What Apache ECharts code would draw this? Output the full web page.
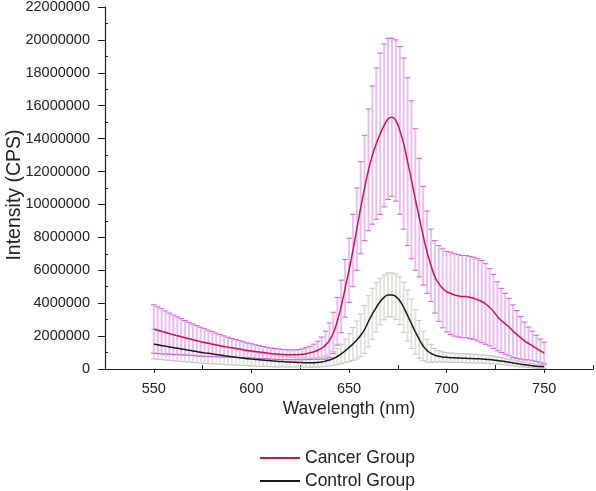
<!DOCTYPE html>
<html>
<head>
<meta charset="utf-8">
<script src="https://cdn.jsdelivr.net/npm/echarts@6/dist/echarts.min.js"></script>
<style>html,body{margin:0;padding:0;background:#fff}#c{width:596px;height:491px}</style>
</head>
<body>
<div id="c"></div>
<script>
// Wavelength (nm) sample positions
const wavelengths = [
550,552,554,556,558,560,562,564,566,568,
570,572,574,576,578,580,582,584,586,588,
590,592,594,596,598,600,602,604,606,608,
610,612,614,616,618,620,622,624,626,628,
630,632,634,636,638,640,642,644,646,648,
650,652,654,656,658,660,662,664,666,668,
670,672,674,676,678,680,682,684,686,688,
690,692,694,696,698,700,702,704,706,708,
710,712,714,716,718,720,722,724,726,728,
730,732,734,736,738,740,742,744,746,748,
750];
// Intensities in millions of CPS
const cancerMean = [
2.43,2.36,2.29,2.22,2.15,2.08,2.02,1.96,1.90,1.84,
1.78,1.72,1.66,1.61,1.56,1.51,1.46,1.41,1.37,1.33,
1.29,1.25,1.21,1.17,1.13,1.10,1.06,1.03,1.00,0.97,
0.94,0.92,0.90,0.88,0.87,0.86,0.86,0.87,0.89,0.93,
0.98,1.05,1.14,1.27,1.45,1.75,2.20,2.90,3.80,4.90,
6.00,7.20,8.50,9.80,11.00,12.10,13.00,13.70,14.30,14.80,
15.20,15.30,15.10,14.50,13.70,12.60,11.50,10.30,9.20,8.10,
7.10,6.30,5.60,5.20,4.90,4.70,4.60,4.50,4.45,4.40,
4.40,4.35,4.30,4.20,4.10,3.95,3.75,3.50,3.20,2.95,
2.75,2.55,2.30,2.10,1.90,1.70,1.55,1.40,1.25,1.10,
0.97];
const cancerSD = [
1.47,1.42,1.37,1.31,1.25,1.20,1.15,1.10,1.05,1.00,
0.96,0.92,0.88,0.84,0.80,0.76,0.72,0.68,0.64,0.60,
0.57,0.54,0.51,0.48,0.45,0.43,0.41,0.39,0.37,0.35,
0.34,0.33,0.32,0.31,0.30,0.30,0.30,0.31,0.33,0.36,
0.40,0.46,0.55,0.67,0.85,1.05,1.25,1.45,1.60,1.75,
1.95,2.20,2.50,2.80,3.20,3.70,4.20,4.60,4.90,4.95,
4.90,4.80,4.90,5.10,5.20,5.10,4.80,4.30,3.60,3.00,
2.50,2.20,2.20,2.30,2.40,2.45,2.50,2.50,2.50,2.50,
2.50,2.50,2.50,2.50,2.50,2.45,2.35,2.25,2.10,1.95,
1.85,1.75,1.60,1.45,1.30,1.15,1.00,0.90,0.80,0.72,
0.66];
const controlMean = [
1.52,1.47,1.43,1.39,1.34,1.30,1.26,1.22,1.18,1.14,
1.10,1.06,1.02,0.98,0.95,0.92,0.88,0.85,0.81,0.78,
0.75,0.72,0.69,0.66,0.63,0.60,0.58,0.56,0.54,0.52,
0.50,0.48,0.46,0.45,0.43,0.42,0.41,0.40,0.39,0.38,
0.38,0.38,0.40,0.43,0.48,0.55,0.64,0.76,0.92,1.10,
1.30,1.52,1.76,2.05,2.40,2.90,3.35,3.75,4.10,4.35,
4.50,4.50,4.40,4.15,3.75,3.25,2.75,2.25,1.80,1.40,
1.12,0.95,0.84,0.77,0.73,0.71,0.69,0.68,0.67,0.66,
0.65,0.64,0.63,0.62,0.61,0.59,0.57,0.55,0.52,0.49,
0.45,0.41,0.37,0.33,0.29,0.26,0.23,0.20,0.17,0.15,
0.13];
const controlSD = [
0.90,0.88,0.86,0.84,0.82,0.80,0.78,0.76,0.74,0.72,
0.70,0.68,0.66,0.64,0.62,0.60,0.58,0.56,0.54,0.52,
0.50,0.48,0.46,0.45,0.43,0.42,0.41,0.40,0.38,0.37,
0.36,0.35,0.34,0.32,0.31,0.30,0.29,0.28,0.28,0.27,
0.27,0.27,0.28,0.30,0.33,0.37,0.42,0.50,0.60,0.72,
0.85,1.00,1.15,1.30,1.45,1.55,1.55,1.50,1.42,1.36,
1.34,1.34,1.38,1.45,1.52,1.55,1.50,1.35,1.15,0.90,
0.70,0.55,0.42,0.35,0.31,0.29,0.28,0.28,0.27,0.27,
0.27,0.27,0.26,0.26,0.25,0.25,0.24,0.23,0.22,0.21,
0.20,0.19,0.18,0.17,0.16,0.15,0.14,0.13,0.12,0.11,
0.10];
const UNIT = 1000000;
const xLabels = [550, 600, 650, 700, 750];
const xMinorTicks = [575, 625, 675, 725, 775];
const yMinorTicks = [1,3,5,7,9,11,13,15,17,19,21].map(v => v * UNIT);
const seriesNames = ['Cancer Group', 'Control Group'];

const chart = echarts.init(document.getElementById('c'), null, {renderer: 'canvas'});
const FONT = '"Liberation Sans", Arial, sans-serif';

function errData(mean, sd) {
  return wavelengths.map((w, i) => [w, mean[i] * UNIT, sd[i] * UNIT]);
}
function lineData(mean) {
  return wavelengths.map((w, i) => [w, mean[i] * UNIT]);
}
function errRender(barColor, capColor) {
  return function (params, api) {
    const x = api.value(0), m = api.value(1), s = api.value(2);
    const top = api.coord([x, m + s]);
    const bot = api.coord([x, m - s]);
    const cw = 2.8;
    return {
      type: 'group',
      children: [
        {type: 'line', shape: {x1: top[0], y1: top[1], x2: bot[0], y2: bot[1]}, style: {stroke: barColor, lineWidth: 2}},
        {type: 'line', shape: {x1: top[0] - cw, y1: top[1], x2: top[0] + cw, y2: top[1]}, style: {stroke: capColor, lineWidth: 1}},
        {type: 'line', shape: {x1: bot[0] - cw, y1: bot[1], x2: bot[0] + cw, y2: bot[1]}, style: {stroke: capColor, lineWidth: 1}}
      ]
    };
  };
}

const axisCol = '#1e1e1e';
chart.setOption({
  animation: false,
  backgroundColor: '#ffffff',
  grid: {left: 105, right: 3, top: 7, bottom: 122, containLabel: false, outerBoundsMode: 'none'},
  legend: {
    data: seriesNames,
    orient: 'vertical',
    left: 260,
    top: 449,
    padding: 0,
    itemWidth: 40,
    itemHeight: 2,
    itemGap: 5,
    icon: 'rect',
    textStyle: {fontFamily: FONT, fontSize: 17.5, color: '#222'}
  },
  xAxis: [{
    type: 'value', min: 525, max: 775,
    name: 'Wavelength (nm)', nameLocation: 'middle', nameGap: 31, nameMoveOverlap: false,
    nameTextStyle: {fontFamily: FONT, fontSize: 17.5, color: '#222'},
    axisLine: {show: true, lineStyle: {color: axisCol, width: 1.2}},
    axisTick: {show: true, inside: false, length: 4, customValues: xLabels, lineStyle: {color: axisCol}},
    axisLabel: {customValues: xLabels, margin: 12, fontFamily: FONT, fontSize: 14.5, color: '#222'},
    splitLine: {show: false}
  }, {
    type: 'value', min: 525, max: 775, position: 'bottom',
    axisLine: {show: false},
    axisTick: {show: true, inside: true, length: 4, customValues: xMinorTicks, lineStyle: {color: axisCol}},
    axisLabel: {show: false},
    splitLine: {show: false}
  }],
  yAxis: [{
    type: 'value', min: 0, max: 22 * UNIT, interval: 2 * UNIT,
    name: 'Intensity (CPS)', nameLocation: 'middle', nameGap: 80, nameRotate: 90, nameMoveOverlap: false,
    nameTextStyle: {fontFamily: FONT, fontSize: 19.5, color: '#222', padding: [0, 14, 0, 0]},
    axisLine: {show: true, lineStyle: {color: axisCol, width: 1.2}},
    axisTick: {show: true, inside: false, length: 7, lineStyle: {color: axisCol}},
    axisLabel: {margin: 15, fontFamily: FONT, fontSize: 14.5, color: '#222', formatter: v => String(v)},
    splitLine: {show: false}
  }, {
    type: 'value', min: 0, max: 22 * UNIT, position: 'left', offset: 0,
    axisLine: {show: false},
    axisTick: {show: true, inside: true, length: 3, customValues: yMinorTicks, lineStyle: {color: axisCol}},
    axisLabel: {show: false},
    splitLine: {show: false}
  }],
  series: [
    {name: 'Control SD', type: 'custom', renderItem: errRender('#e2e2dc', '#c4c4c0'), data: errData(controlMean, controlSD), z: 1, silent: true},
    {name: 'Cancer SD', type: 'custom', renderItem: errRender('#ecbdf3', '#cf5ddc'), data: errData(cancerMean, cancerSD), z: 2, silent: true},
    {name: seriesNames[0], type: 'line', data: lineData(cancerMean), smooth: true, showSymbol: false, color: '#cc1450', lineStyle: {width: 1.5, color: '#cc1450'}, z: 5},
    {name: seriesNames[1], type: 'line', data: lineData(controlMean), smooth: true, showSymbol: false, color: '#1a1a1a', lineStyle: {width: 1.5, color: '#1a1a1a'}, z: 5}
  ]
});
</script>
</body>
</html>
